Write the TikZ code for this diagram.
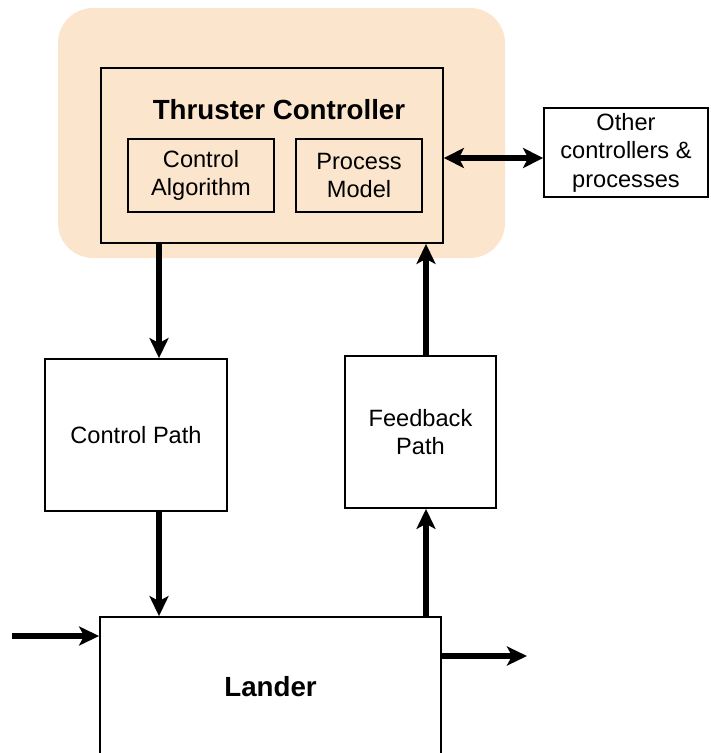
\documentclass[tikz,border=0pt]{standalone}
\usepackage{fontspec}
\setmainfont{Liberation Sans}
\usepackage{xcolor}
\usetikzlibrary{arrows.meta}
\definecolor{peach}{HTML}{FBE5CD}

\begin{document}
\begin{tikzpicture}[x=1pt, y=-1pt,
    box/.style = {shape=rectangle, draw, line width=1.8pt,
      align=center, inner sep=0pt,
      font=\fontsize{23.6pt}{28.5pt}\selectfont},
    title/.style = {font=\bfseries\fontsize{27.7pt}{30pt}\selectfont,
      inner sep=0pt, anchor=base},
    flow/.style = {line width=6pt,
      -{Stealth[length=20pt, width=19pt, inset=5pt]}},
    both/.style = {line width=6pt,
      {Stealth[length=20pt, width=20pt, inset=5pt]}-{Stealth[length=20pt, width=20pt, inset=5pt]}}]
    \useasboundingbox (0,0) rectangle (711,753);
    % controller area
    \node[fill=peach, rounded corners=35pt, inner sep=0pt,
      minimum width=447pt, minimum height=250pt] (zone) at (281.5,133) {};
    \node[box, minimum width=342pt, minimum height=175pt] (ctrl) at (272,155.5) {};
    \node[title] (ctrltitle) at (279,119) {Thruster Controller};
    \node[box, minimum width=146pt, minimum height=73pt] (alg) at (201,175.5) {Control\\Algorithm};
    \node[box, minimum width=126pt, minimum height=73pt] (model) at (359,175.5) {Process\\Model};
    \node[box, minimum width=164pt, minimum height=89pt] (other) at (626,152.5) {Other\\controllers \&\\processes};
    % paths and plant
    \node[box, minimum width=182pt, minimum height=152pt] (cpath) at (136,435) {Control Path};
    \node[box, minimum width=151pt, minimum height=152pt] (fpath) at (420.5,432) {Feedback\\Path};
    \node[box, minimum width=341pt, minimum height=140pt,
      font=\bfseries\fontsize{27.7pt}{30pt}\selectfont] (lander) at (270.5,687) {Lander};
    % connector lines
    \coordinate (cx) at (159,0);
    \coordinate (fx) at (426,0);
    \coordinate (ay) at (0,158);
    \coordinate (in) at (12,636);
    \coordinate (out) at (527,656);
    \draw[flow] (ctrl.south -| cx) -- (cpath.north -| cx);
    \draw[flow] (cpath.south -| cx) -- (lander.north -| cx);
    \draw[flow] (lander.north -| fx) -- (fpath.south -| fx);
    \draw[flow] (fpath.north -| fx) -- (ctrl.south -| fx);
    \draw[both] (ctrl.east |- ay) -- (other.west |- ay);
    \draw[flow] (in) -- (lander.west |- in);
    \draw[flow] ([xshift=-2pt]lander.east |- out) -- (out);
\end{tikzpicture}
\end{document}
